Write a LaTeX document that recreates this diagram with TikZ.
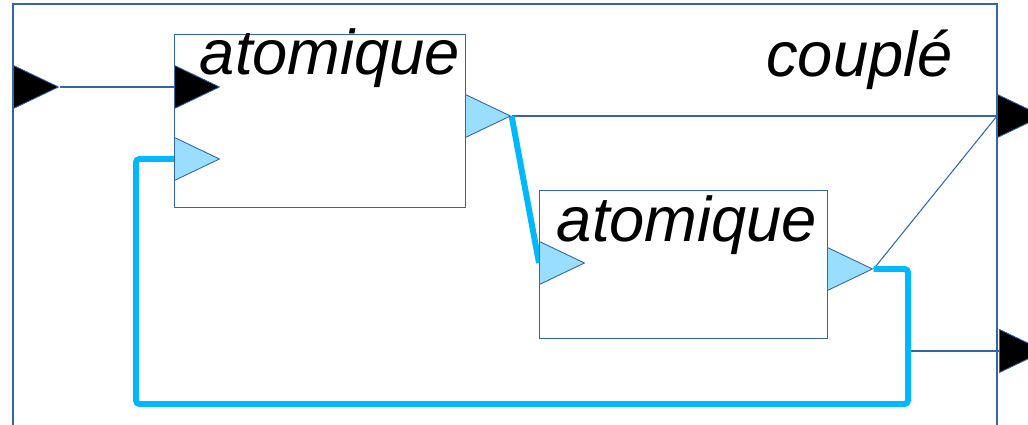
\documentclass[tikz,border=0pt]{standalone}
\usepackage{fontspec}
\setmainfont{Liberation Sans}
\usetikzlibrary{shapes.geometric, arrows.meta, positioning, calc, backgrounds}
\definecolor{lineblue}{RGB}{52,101,164}
\definecolor{portblue}{RGB}{153,221,255}
\definecolor{linkblue}{RGB}{0,184,255}

\begin{document}
\begin{tikzpicture}[
      atom/.style={rectangle, draw=lineblue, line width=0.5pt, minimum width=5.82cm, minimum height=3.46cm, inner sep=0pt},
      title/.style={font=\itshape\fontsize{36}{40}\selectfont, inner sep=0pt},
      port/.style={isosceles triangle, isosceles triangle stretches, draw=lineblue, line width=0.5pt, minimum width=0.86cm, minimum height=0.9cm, inner sep=0pt, anchor=west},
      evport/.style={port, fill=black},
      dataport/.style={port, fill=portblue},
      wire/.style={draw=lineblue, line width=0.6pt},
      link/.style={draw=linkblue, line width=3.4pt}
    ]
    \useasboundingbox (0,0) rectangle (20.56,8.5);

    % coupled model frame
    \draw[lineblue, line width=0.6pt] (0.26,-0.1) |- (19.94,8.42) -- (19.94,-0.1);
    \node[title, anchor=base east] (coupleTitle) at (19.06,6.96) {couplé};

    % atomic models
    \node[atom] (atomA) at (6.39,6.09) {};
    \node[atom, minimum width=5.76cm, minimum height=2.96cm] (atomB) at (13.66,3.22) {};
    \node[title, anchor=base east] (atomAtitle) at ($(atomA.north east)+(-0.1,-0.82)$) {atomique};
    \node[title, anchor=base east] (atomBtitle) at ($(atomB.north east)+(-0.2,-1.04)$) {atomique};

    % ports
    \node[evport] (extIn) at (0.26,6.76) {};
    \node[evport] (atomAin) at (3.48,6.76) {};
    \node[dataport] (atomAfb) at (3.48,5.32) {};
    \node[dataport] (atomAout) at (9.3,6.18) {};
    \node[dataport] (atomBin) at (10.78,3.24) {};
    \node[dataport] (atomBout) at (16.54,3.12) {};
    \node[evport] (extOutA) at (19.94,6.18) {};
    \node[evport] (extOutB) at (19.98,1.48) {};

    \coordinate (loopR) at (18.16,0.42);
    \coordinate (loopL) at (2.72,0.42);
    \coordinate (tap) at (loopR |- extOutB.west);

    \begin{scope}[on background layer]
      \draw[wire] (extIn.apex) -- (atomAin.west);
      \draw[wire] (atomAout.apex) -- (extOutA.west);
      \draw[wire] (atomBout.apex) -- (extOutA.west);
      \draw[wire] (tap) -- (extOutB.west);
      \draw[link] (atomAout.apex) -- (atomBin.west);
      \draw[link, rounded corners=2pt] (atomBout.apex) -| (loopR) -- (loopL) |- (atomAfb.west);
    \end{scope}
  \end{tikzpicture}
\end{document}
